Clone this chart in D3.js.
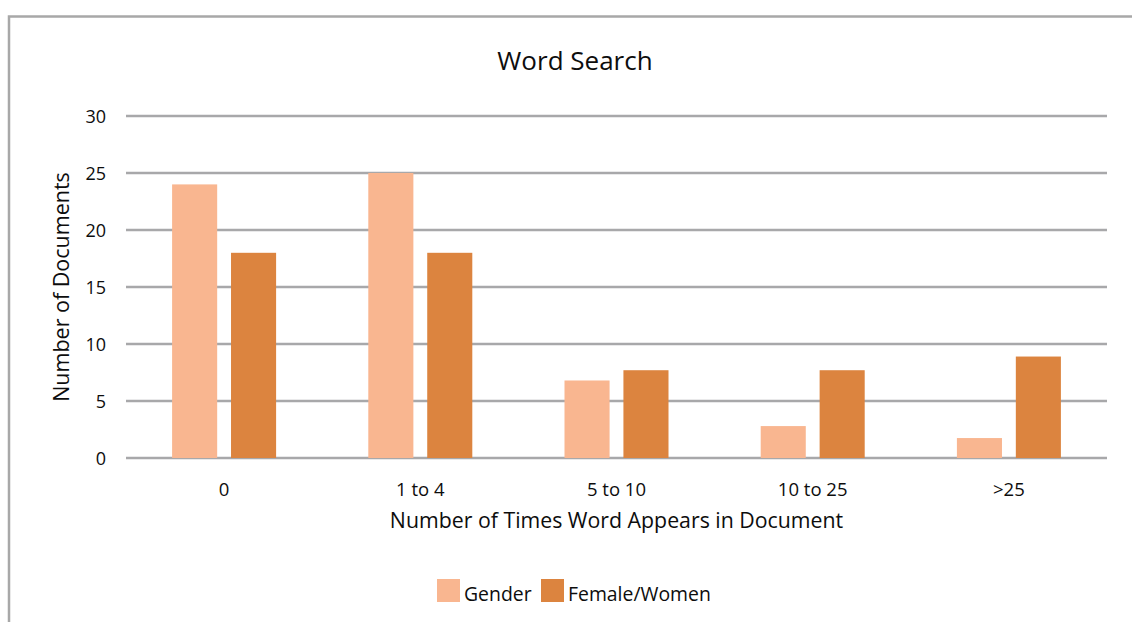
<!DOCTYPE html>
<html>
<head>
<meta charset="utf-8">
<script src="https://cdn.jsdelivr.net/npm/d3@7"></script>
<style>
  html, body { margin: 0; padding: 0; background: #fff; }
  svg { display: block; font-family: "Open Sans", "Noto Sans", sans-serif; }
</style>
</head>
<body>
<svg id="chart" width="1132" height="622"></svg>
<script>
const categories = ["0", "1 to 4", "5 to 10", "10 to 25", ">25"];
const seriesNames = ["Gender", "Female/Women"];
const genderValues = [24, 25, 6.8, 2.8, 1.75];
const femaleValues = [18, 18, 7.7, 7.7, 8.9];
const yTicks = [0, 5, 10, 15, 20, 25, 30];
const colors = ["#F9B690", "#DC843F"];

const svg = d3.select("#chart");
const W = 1132, H = 622;
const plot = { left: 126, right: 1107, top: 116, bottom: 458 };
const textColor = "#0d0d0d";

// outer border (chart area frame)
svg.append("path")
  .attr("d", `M9,${H + 5} L9,16.5 L${W + 5},16.5`)
  .attr("fill", "none")
  .attr("stroke", "#a8a8a8")
  .attr("stroke-width", 2.5);

const x0 = d3.scaleBand().domain(categories).range([plot.left, plot.right]).padding(0);
const groupPad = (x0.bandwidth() - 104) / 2;
const x1 = d3.scaleBand().domain(seriesNames)
  .range([groupPad, groupPad + 104]).paddingInner(0.235).paddingOuter(0);
const y = d3.scaleLinear().domain([0, 30]).range([plot.bottom, plot.top]);

// gridlines
svg.append("g").selectAll("line").data(yTicks).join("line")
  .attr("x1", plot.left).attr("x2", plot.right)
  .attr("y1", d => y(d)).attr("y2", d => y(d))
  .attr("stroke", "#a8a8aa").attr("stroke-width", 2.5);

// y tick labels
svg.append("g").selectAll("text").data(yTicks).join("text")
  .attr("x", 106).attr("y", d => y(d) + 7)
  .attr("text-anchor", "end")
  .attr("font-size", 18).attr("fill", textColor)
  .text(d => d);

// bars
const data = categories.map((c, i) => ({ cat: c, vals: [genderValues[i], femaleValues[i]] }));
const groups = svg.append("g").selectAll("g").data(data).join("g")
  .attr("transform", d => `translate(${x0(d.cat)},0)`);
groups.selectAll("rect").data(d => d.vals.map((v, j) => ({ s: seriesNames[j], v, j })))
  .join("rect")
  .attr("x", d => x1(d.s))
  .attr("width", x1.bandwidth())
  .attr("y", d => y(d.v))
  .attr("height", d => y(0) - y(d.v))
  .attr("fill", d => colors[d.j]);

// x tick labels
svg.append("g").selectAll("text").data(categories).join("text")
  .attr("x", d => x0(d) + x0.bandwidth() / 2)
  .attr("y", 496)
  .attr("text-anchor", "middle")
  .attr("font-size", 18.5).attr("fill", textColor)
  .text(d => d);

// title
svg.append("text").attr("x", 575).attr("y", 70)
  .attr("text-anchor", "middle").attr("font-size", 26).attr("fill", textColor)
  .text("Word Search");

// axis titles
svg.append("text").attr("x", (plot.left + plot.right) / 2).attr("y", 528)
  .attr("text-anchor", "middle").attr("font-size", 21.3).attr("fill", textColor)
  .text("Number of Times Word Appears in Document");

svg.append("text")
  .attr("transform", `translate(69,${(plot.top + plot.bottom) / 2}) rotate(-90)`)
  .attr("text-anchor", "middle").attr("font-size", 21.5).attr("fill", textColor)
  .text("Number of Documents");

// legend
const legendX = [437, 541];
const lg = svg.append("g").selectAll("g").data(seriesNames).join("g")
  .attr("transform", (d, i) => `translate(${legendX[i]},579)`);
lg.append("rect").attr("width", 23).attr("height", 23).attr("fill", (d, i) => colors[i]);
lg.append("text").attr("x", 27).attr("y", 22)
  .attr("font-size", 19.4).attr("fill", textColor).text(d => d);
</script>
</body>
</html>
